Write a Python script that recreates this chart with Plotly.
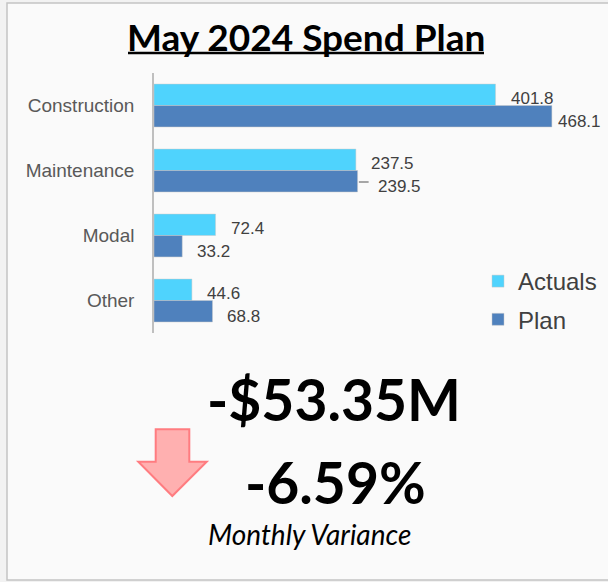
import plotly.graph_objects as go

W, H = 608, 582

categories = ["Construction", "Maintenance", "Modal", "Other"]
actuals = [401.8, 237.5, 72.4, 44.6]
plan = [468.1, 239.5, 33.2, 68.8]
series_names = ["Actuals", "Plan"]
series_colors = ["#4fd3fd", "#4f81bd"]

title_text = "May 2024 Spend Plan"
variance_amount = "-$53.35M"
variance_pct = "-6.59%"
variance_caption = "Monthly Variance"


def px(x):
    return x / W


def py(y):
    return 1 - y / H


fig = go.Figure()
for name, vals, col in zip(series_names, [actuals, plan], series_colors):
    fig.add_trace(go.Bar(
        y=categories, x=vals, name=name, orientation="h",
        marker=dict(color=col, line=dict(width=0.6, color="rgba(200,200,200,0.8)")),
        legendgroup=name, hoverinfo="x+y",
    ))

X_MAX = 520
annotations = []
# data labels
for i, c in enumerate(categories):
    for vals, ys in ((actuals, 7), (plan, -16)):
        v = vals[i]
        xs = 13
        if v == max(plan):
            xs = 4
        if vals is plan and c == "Maintenance":
            xs = 18
        annotations.append(dict(
            x=v, y=c, xref="x", yref="y", text=f"{v:.1f}", showarrow=False,
            xanchor="left", yanchor="middle", xshift=xs, yshift=ys,
            font=dict(family="Liberation Sans, Arial", size=17, color="#404040"),
        ))

annotations += [
    dict(x=px(306), y=py(36), xref="paper", yref="paper", text=f"<b>{title_text}</b>",
         showarrow=False, xanchor="center", yanchor="middle",
         font=dict(family="Lato", size=37, color="#000000")),
    dict(x=px(334), y=py(399), xref="paper", yref="paper", text=f"<b>{variance_amount}</b>",
         showarrow=False, xanchor="center", yanchor="middle",
         font=dict(family="Lato", size=57, color="#000000")),
    dict(x=px(335), y=py(482), xref="paper", yref="paper", text=f"<b>{variance_pct}</b>",
         showarrow=False, xanchor="center", yanchor="middle",
         font=dict(family="Lato", size=57, color="#000000")),
    dict(x=px(309), y=py(534), xref="paper", yref="paper", text=f"<i>{variance_caption}</i>",
         showarrow=False, xanchor="center", yanchor="middle",
         font=dict(family="Lato", size=28, color="#000000")),
]

arrow = [(155.7, 429.3), (189.3, 429.3), (189.3, 461.7), (206.7, 461.7),
         (172.3, 496), (138.3, 461.7), (155.7, 461.7)]
arrow_path = "M " + " L ".join(f"{px(x):.5f},{py(y):.5f}" for x, y in arrow) + " Z"

shapes = [
    dict(type="rect", xref="paper", yref="paper", x0=px(7), x1=px(610), y0=py(580), y1=py(3),
         fillcolor="#fafafa", line=dict(color="#c4c4c4", width=1.5), layer="below"),
    dict(type="line", xref="paper", yref="paper", x0=px(128), x1=px(484), y0=py(53), y1=py(53),
         line=dict(color="#000000", width=2.5)),
    dict(type="path", xref="paper", yref="paper", path=arrow_path,
         fillcolor="#ffb0b0", line=dict(color="#ff7c80", width=2)),
]
# leader line for Maintenance plan label
mi = categories.index("Maintenance")
shapes.append(dict(type="line", xref="x", yref="paper",
                   x0=plan[mi] + 1.5, x1=plan[mi] + 13,
                   y0=py(182), y1=py(182), line=dict(color="#a6a6a6", width=2)))

fig.update_layout(
    width=W, height=H,
    margin=dict(l=0, r=0, t=0, b=0),
    paper_bgcolor="#f2f2f2", plot_bgcolor="rgba(0,0,0,0)",
    barmode="group", bargap=0.34, bargroupgap=0,
    showlegend=True,
    legend=dict(x=px(478), y=py(259), xanchor="left", yanchor="top",
                font=dict(family="Liberation Sans, Arial", size=24, color="#404040"),
                bgcolor="rgba(0,0,0,0)", tracegroupgap=4, itemwidth=30,
                traceorder="grouped"),
    xaxis=dict(domain=[px(154), px(154 + 0.85 * X_MAX)], range=[0, X_MAX],
               visible=False, showgrid=False, zeroline=False, fixedrange=True),
    yaxis=dict(domain=[py(333), py(73)], autorange="reversed",
               showline=True, linecolor="#bfbfbf", linewidth=1.5,
               showgrid=False, ticks="", ticklabelstandoff=14,
               tickfont=dict(family="Liberation Sans, Arial", size=19, color="#595959"),
               fixedrange=True),
    annotations=annotations,
    shapes=shapes,
)

fig.write_html("out.html",
               config={"displayModeBar": False},
               post_script="document.body.style.margin='0';document.body.style.padding='0';"
                           "document.documentElement.style.overflow='hidden';")
